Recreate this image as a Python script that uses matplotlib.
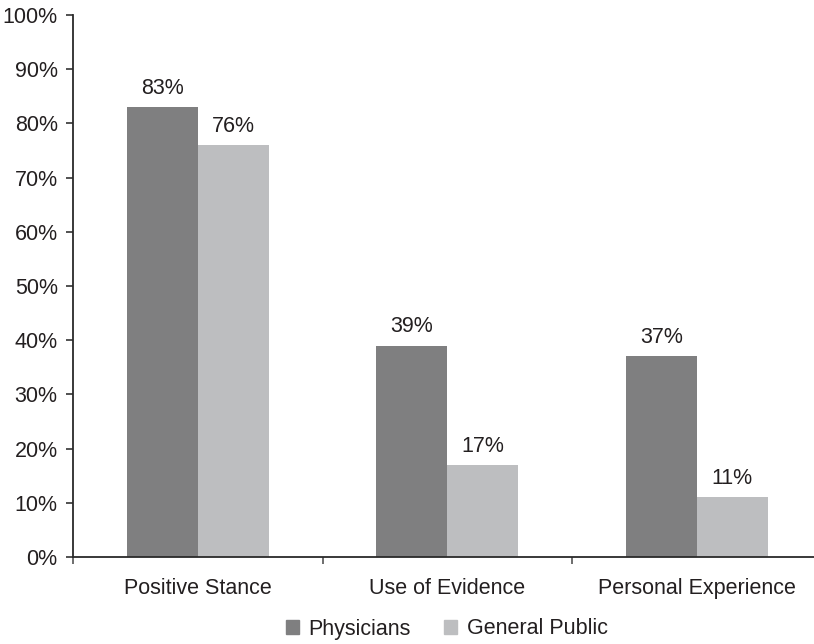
import numpy as np
import matplotlib.pyplot as plt
import matplotlib.patches as mpatches

categories = ["Positive Stance", "Use of Evidence", "Personal Experience"]
physicians = [83, 39, 37]
general_public = [76, 17, 11]
series_labels = ["Physicians", "General Public"]

DARK = "#7f7f80"
LIGHT = "#bdbec0"
TEXT = "#231f20"
FS = 15.5

plt.rcParams["font.family"] = ["Liberation Sans", "DejaVu Sans"]

fig = plt.figure(figsize=(8.14, 6.44), dpi=100)
ax = fig.add_axes([73 / 814, 87 / 644, 748.5 / 814, 542 / 644])

x = np.arange(len(categories))
w = 0.285
b1 = ax.bar(x - w / 2, physicians, w, color=DARK, linewidth=0)
b2 = ax.bar(x + w / 2, general_public, w, color=LIGHT, linewidth=0)

for bars, vals in ((b1, physicians), (b2, general_public)):
    for rect, v in zip(bars, vals):
        ax.annotate(f"{v}%", (rect.get_x() + rect.get_width() / 2, v),
                    xytext=(0, 6), textcoords="offset points",
                    ha="center", va="bottom", fontsize=FS, color=TEXT)

ax.set_xlim(-0.5, 2.5)
ax.set_ylim(0, 100)
ax.set_yticks(np.arange(0, 101, 10))
ax.set_yticklabels([f"{t}%" for t in range(0, 101, 10)])
ax.set_xticks(x)
ax.set_xticklabels(categories)
ax.set_xticks([-0.5, 0.5, 1.5], minor=True)
ax.tick_params(axis="x", which="major", length=0, pad=15, labelsize=FS, labelcolor=TEXT)
ax.tick_params(axis="x", which="minor", length=5, width=1.2, direction="out", color="#555555")
ax.tick_params(axis="y", length=5, width=1.2, direction="out", pad=6,
               labelsize=FS, labelcolor=TEXT, color="#333333")

for s in ("top", "right"):
    ax.spines[s].set_visible(False)
for s in ("left", "bottom"):
    ax.spines[s].set_linewidth(1.3)
    ax.spines[s].set_color("#2a2a2a")

handles = [mpatches.Patch(color=DARK, label=series_labels[0]),
           mpatches.Patch(color=LIGHT, label=series_labels[1])]
fig.legend(handles=handles, loc="center", bbox_to_anchor=(447 / 814, 1 - 629 / 644),
           ncol=2, frameon=False, fontsize=FS, handlelength=0.6, handleheight=0.6,
           handletextpad=0.45, columnspacing=1.55, labelcolor=TEXT)

fig.savefig("out.png", dpi=100)
